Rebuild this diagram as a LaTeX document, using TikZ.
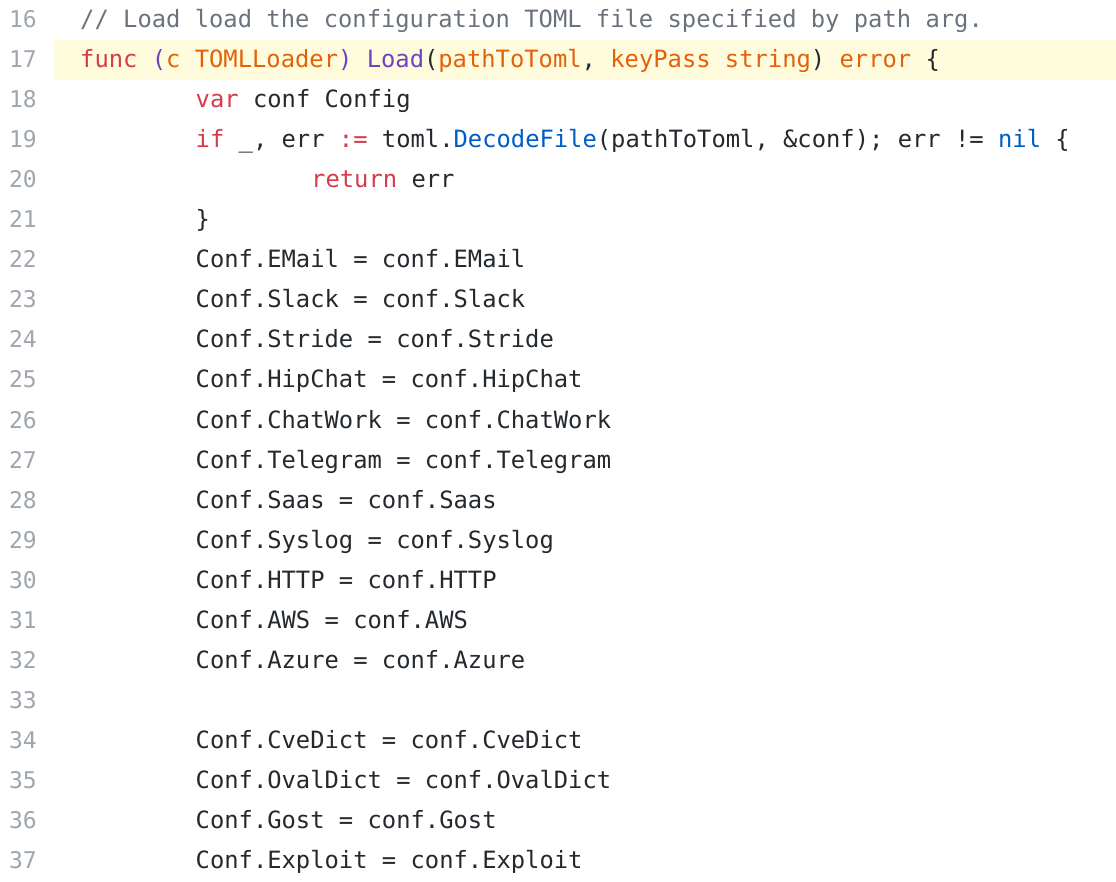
\documentclass[tikz,border=0pt]{standalone}
\usepackage{fontspec}
\setmonofont{DejaVu Sans Mono}
\definecolor{cmt}{HTML}{6A737D}
\definecolor{kw}{HTML}{D73A49}
\definecolor{fn}{HTML}{6F42C1}
\definecolor{ty}{HTML}{E36209}
\definecolor{cst}{HTML}{005CC5}
\definecolor{lnum}{HTML}{A0A6AD}
\definecolor{txt}{HTML}{24292E}
\definecolor{hilite}{HTML}{FFFBDD}
\tikzset{
  numtext/.style={anchor=base east,inner sep=0pt,text=lnum,font=\ttfamily\fontsize{23}{23}\selectfont},
  codetext/.style={anchor=base west,inner sep=0pt,text=txt,font=\ttfamily\fontsize{23.8}{23.8}\selectfont}
}
% line number, indent level, code
\newcommand\codeline[3]{%
  \node[numtext] (n#1) at (37,{(#1-16)*40+28}) {#1};
  \node[codetext] (c#1) at ({80+#2*115.5},{(#1-16)*40+28}) {#3};}
\begin{document}
\begin{tikzpicture}[x=1pt,y=-1pt]
  \useasboundingbox (0,0) rectangle (1116,882);
  \fill[white] (0,0) rectangle (1116,882);
  \fill[hilite] (54,40) rectangle (1116,80);
  \codeline{16}{0}{\color{cmt}// Load load the configuration TOML file specified by path arg.}
  \codeline{17}{0}{\color{kw}func \color{fn}(\color{ty}c TOMLLoader\color{fn}) Load\color{txt}(\color{ty}pathToToml\color{txt}, \color{ty}keyPass string\color{txt}) \color{ty}error \color{txt}\{}
  \codeline{18}{1}{\color{kw}var \color{txt}conf Config}
  \codeline{19}{1}{\color{kw}if \color{txt}\_, err \color{kw}:= \color{txt}toml.\color{cst}DecodeFile\color{txt}(pathToToml, \&conf); err != \color{cst}nil \color{txt}\{}
  \codeline{20}{2}{\color{kw}return \color{txt}err}
  \codeline{21}{1}{\}}
  \foreach \n/\f in {22/EMail,23/Slack,24/Stride,25/HipChat,26/ChatWork,27/Telegram,28/Saas,29/Syslog,30/HTTP,31/AWS,32/Azure,34/CveDict,35/OvalDict,36/Gost,37/Exploit}
    {\codeline{\n}{1}{Conf.\f\ = conf.\f}}
  \node[numtext] (n33) at (37,{(33-16)*40+28}) {33};
\end{tikzpicture}
\end{document}
